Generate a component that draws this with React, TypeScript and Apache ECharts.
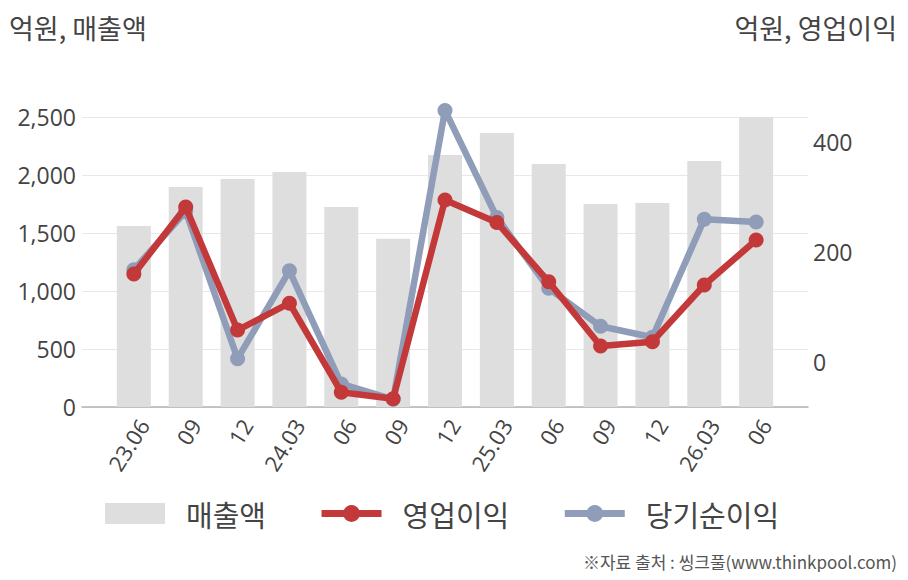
import React, { useEffect, useRef } from "react";
import * as echarts from "echarts";

const categories = ["23.06", "09", "12", "24.03", "06", "09", "12", "25.03", "06", "09", "12", "26.03", "06"];
const revenue = [1560, 1897, 1965, 2026, 1724, 1451, 2172, 2362, 2095, 1750, 1759, 2121, 2500];
const opProfit = [160, 282, 58, 107, -55, -67, 295, 254, 146, 29, 37, 140, 222];
const netProfit = [168, 274, 6, 166, -40, -68, 458, 263, 134, 65, 45, 260, 255];
const leftTicks = [0, 500, 1000, 1500, 2000, 2500];
const rightTicks = [0, 200, 400];
const seriesNames = ["매출액", "영업이익", "당기순이익"];

const FONT = "'Noto Sans CJK KR', 'Noto Sans', sans-serif";
const NUMFONT = "'Open Sans', 'Noto Sans', sans-serif";
const TEXT = "#444444";
const RED = "#c3393a";
const BLUE = "#8f9db9";
const BAR = "#dedede";

export default function App() {
  const ref = useRef<HTMLDivElement>(null);
  useEffect(() => {
    if (!ref.current) return;
    const chart = echarts.init(ref.current, null, { renderer: "svg" });
    const pad = (arr: number[]) => ["-", ...arr, "-"];
    const option: any = {
      animation: false,
      backgroundColor: "#ffffff",
      grid: { left: 82, right: 100, top: 117, bottom: 173, containLabel: false },
      legend: {
        data: [
          { name: seriesNames[0], icon: "rect" },
          { name: seriesNames[1] },
          { name: seriesNames[2] },
        ],
        left: 100,
        top: 494,
        itemWidth: 60,
        itemHeight: 21,
        itemGap: 52,
        lineStyle: { width: 7 },
        textStyle: { fontFamily: FONT, fontSize: 29, color: TEXT, padding: [0, 0, 0, 16] },
      },
      xAxis: {
        type: "category",
        data: ["", ...categories, ""],
        boundaryGap: false,
        axisLine: { lineStyle: { color: "#b3b3b3", width: 1.5 } },
        axisTick: { show: false },
        axisLabel: {
          rotate: 58,
          interval: 0,
          margin: 8,
          verticalAlign: "top",
          fontFamily: NUMFONT,
          fontSize: 22,
          color: TEXT,
        },
        splitLine: { show: false },
      },
      yAxis: [
        {
          type: "value",
          min: 0,
          max: 2500,
          interval: 500,
          position: "left",
          axisLine: { show: false },
          axisTick: { show: false },
          axisLabel: {
            margin: 6,
            fontFamily: NUMFONT,
            fontSize: 23,
            color: TEXT,
            formatter: (v: number) => (leftTicks.includes(v) ? v.toLocaleString("en-US") : ""),
          },
          splitLine: { lineStyle: { color: "#e8e8e8", width: 1 } },
        },
        {
          type: "value",
          min: -82,
          max: 446,
          position: "right",
          axisLine: { show: false },
          axisTick: { show: false },
          splitLine: { show: false },
          axisLabel: {
            customValues: rightTicks,
            margin: 5,
            fontFamily: NUMFONT,
            fontSize: 23,
            color: TEXT,
          },
        },
      ],
      series: [
        {
          name: seriesNames[0],
          type: "bar",
          data: pad(revenue),
          barWidth: 34,
          itemStyle: { color: BAR },
          z: 1,
        },
        {
          name: seriesNames[2],
          type: "line",
          yAxisIndex: 1,
          data: pad(netProfit),
          clip: false,
          symbol: "circle",
          symbolSize: 15,
          lineStyle: { color: BLUE, width: 6.5 },
          itemStyle: { color: BLUE },
          z: 3,
        },
        {
          name: seriesNames[1],
          type: "line",
          yAxisIndex: 1,
          data: pad(opProfit),
          clip: false,
          symbol: "circle",
          symbolSize: 15,
          lineStyle: { color: RED, width: 6.5 },
          itemStyle: { color: RED },
          z: 4,
        },
      ],
      graphic: [
        {
          type: "text",
          left: 9,
          top: 14,
          style: { text: "억원, 매출액", fontFamily: FONT, fontSize: 27, fill: TEXT },
        },
        {
          type: "text",
          right: 11,
          top: 14,
          style: { text: "억원, 영업이익", fontFamily: FONT, fontSize: 27, fill: TEXT },
        },
        {
          type: "text",
          right: 11,
          top: 553,
          style: { text: "※자료 출처 : 씽크풀(www.thinkpool.com)", fontFamily: FONT, fontSize: 17, fill: "#555555" },
        },
      ],
    };
    chart.setOption(option);
    return () => chart.dispose();
  }, []);
  return <div ref={ref} style={{ width: 908, height: 580, margin: -8 }} />;
}
